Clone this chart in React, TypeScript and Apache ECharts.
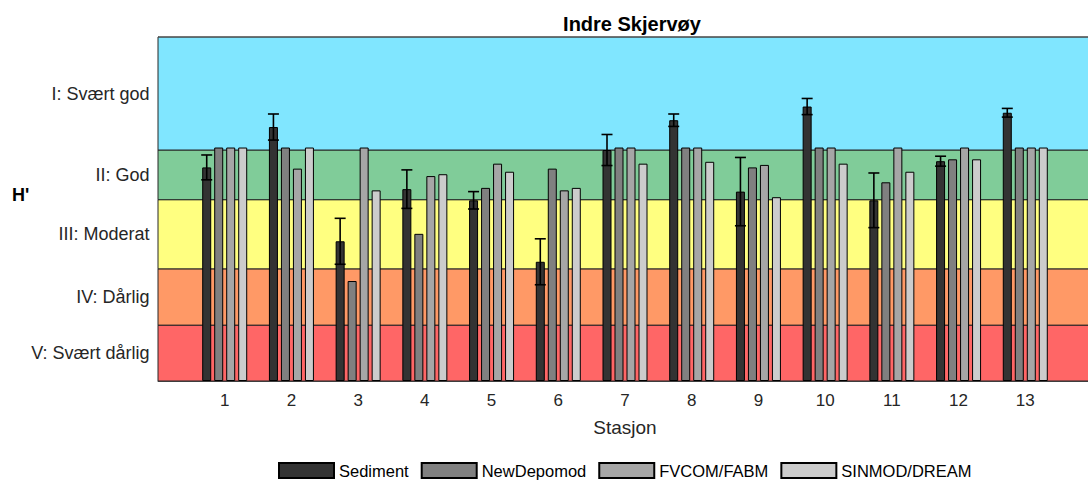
import React, { useEffect, useRef } from "react";
import * as echarts from "echarts";

const stations = ["", "1", "2", "3", "4", "5", "6", "7", "8", "9", "10", "11", "12", "13", ""];
const seriesNames = ["Sediment", "NewDepomod", "FVCOM/FABM", "SINMOD/DREAM"];
const seriesColors = ["#333333", "#808080", "#a6a6a6", "#cccccc"];

const sediment = [3.44, 4.09, 2.25, 3.09, 2.91, 1.92, 3.72, 4.2, 3.05, 4.42, 2.91, 3.54, 4.32];
const sedimentErr = [0.2, 0.21, 0.37, 0.31, 0.14, 0.37, 0.25, 0.1, 0.55, 0.13, 0.44, 0.08, 0.07];
const newDepomod = [3.76, 3.76, 1.61, 2.37, 3.11, 3.42, 3.76, 3.76, 3.44, 3.76, 3.2, 3.57, 3.76];
const fvcom = [3.76, 3.42, 3.76, 3.3, 3.5, 3.07, 3.76, 3.76, 3.48, 3.76, 3.76, 3.76, 3.76];
const sinmod = [3.76, 3.76, 3.07, 3.33, 3.37, 3.11, 3.5, 3.53, 2.96, 3.5, 3.37, 3.57, 3.76];

const classLabels = ["V: Svært dårlig", "IV: Dårlig", "III: Moderat", "II: God", "I: Svært god"];
const classBounds = [0, 0.9, 1.806, 2.92, 3.72, 5.54];
const classColors = ["#ff6666", "#ff9966", "#ffff80", "#80cc99", "#80e6ff"];

const FONT = "Liberation Sans, Arial, Helvetica, sans-serif";

export default function App() {
  const ref = useRef<HTMLDivElement>(null);
  useEffect(() => {
    if (!ref.current) return;
    const chart = echarts.init(ref.current, undefined, { renderer: "svg" });
    const pad = (arr: number[]) => ["-", ...arr, "-"];
    const allData = [sediment, newDepomod, fvcom, sinmod];
    const barWidth = 9;
    const gap = 3;
    const sedOffset = -(4 * barWidth + 3 * gap) / 2 + barWidth / 2;

    const bands = classLabels.map((lab, i) => [
      {
        yAxis: classBounds[i],
        name: lab,
        itemStyle: { color: classColors[i], borderColor: "#262626", borderWidth: 1 },
        label: {
          show: true,
          position: "left",
          distance: 8,
          color: "#262626",
          fontSize: 18,
          fontFamily: FONT,
          formatter: lab,
        },
      },
      { yAxis: classBounds[i + 1] },
    ]);

    const barSeries: any[] = allData.map((d, i) => ({
      name: seriesNames[i],
      type: "bar",
      data: pad(d),
      barWidth,
      barGap: `${(gap / barWidth) * 100}%`,
      itemStyle: { color: seriesColors[i], borderColor: "#000", borderWidth: 1 },
      z: 2,
      ...(i === 0
        ? {
            markArea: {
              silent: true,
              z: 1,
              data: bands,
            },
          }
        : {}),
    }));

    const errData = sediment.map((v, i) => [i + 1, v - sedimentErr[i], v + sedimentErr[i]]);

    chart.setOption({
      animation: false,
      textStyle: { fontFamily: FONT },
      title: {
        text: "Indre Skjervøy",
        left: 627,
        textAlign: "center",
        top: 9,
        textStyle: { fontSize: 20, fontWeight: "bold", color: "#000", fontFamily: FONT },
      },
      grid: { left: 158, top: 37, width: 934, height: 344, show: false },
      legend: {
        left: 278,
        top: 461,
        padding: 0,
        itemWidth: 55,
        itemHeight: 15,
        itemGap: 12,
        icon: "rect",
        textStyle: { fontSize: 16.5, lineHeight: 19, color: "#000", fontFamily: FONT },
        data: seriesNames,
      },
      xAxis: {
        type: "category",
        data: stations,
        boundaryGap: false,
        axisLine: { show: true, lineStyle: { color: "#555", width: 1 } },
        axisTick: { show: false },
        axisLabel: { fontSize: 17, color: "#262626", margin: 11, interval: 0 },
        name: "Stasjon",
        nameLocation: "middle",
        nameGap: 37,
        nameTextStyle: { fontSize: 19, color: "#262626" },
        splitLine: { show: false },
      },
      yAxis: {
        type: "value",
        min: classBounds[0],
        max: classBounds[classBounds.length - 1],
        axisLine: { show: true, lineStyle: { color: "#555", width: 1 } },
        axisTick: { show: false },
        axisLabel: { show: false },
        splitLine: { show: false },
      },
      graphic: [
        {
          type: "text",
          left: 12,
          top: 186,
          style: { text: "H'", fontSize: 18, fontWeight: "bold", fill: "#000", fontFamily: FONT },
        },
        {
          type: "line",
          shape: { x1: 158, y1: 37, x2: 1100, y2: 37 },
          style: { stroke: "#555", lineWidth: 1 },
          z: 10,
        },
      ],
      series: [
        ...barSeries,
        {
          type: "custom",
          name: "err",
          z: 5,
          encode: { x: 0, y: [1, 2] },
          data: errData,
          renderItem: (params: any, api: any) => {
            const lo = api.coord([api.value(0), api.value(1)]);
            const hi = api.coord([api.value(0), api.value(2)]);
            const x = lo[0] + sedOffset;
            const cap = 5.5;
            const style = { stroke: "#000", lineWidth: 1.6 };
            return {
              type: "group",
              children: [
                { type: "line", shape: { x1: x, y1: lo[1], x2: x, y2: hi[1] }, style },
                { type: "line", shape: { x1: x - cap, y1: hi[1], x2: x + cap, y2: hi[1] }, style },
                { type: "line", shape: { x1: x - cap, y1: lo[1], x2: x + cap, y2: lo[1] }, style },
              ],
            };
          },
        },
      ],
    });
    return () => chart.dispose();
  }, []);
  return (
    <div
      style={{
        position: "absolute",
        left: 0,
        top: 0,
        width: 1088,
        height: 480,
        overflow: "hidden",
      }}
    >
      <div ref={ref} style={{ width: 1110, height: 480 }} />
    </div>
  );
}
